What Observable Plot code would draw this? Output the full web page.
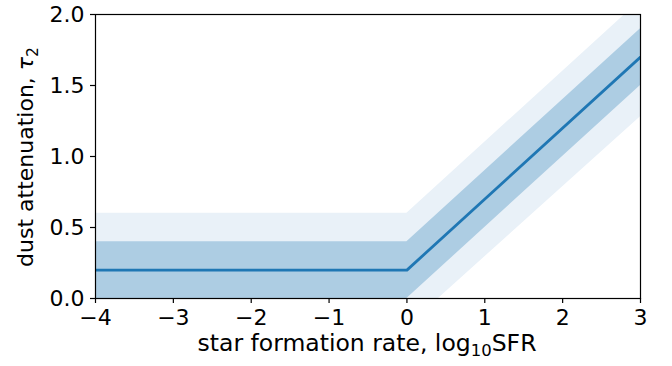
<!DOCTYPE html>
<html>
<head>
<meta charset="utf-8">
<script src="https://cdn.jsdelivr.net/npm/d3@7"></script>
<script src="https://cdn.jsdelivr.net/npm/@observablehq/plot@0.6"></script>
<style>
  html, body { margin: 0; padding: 0; background: #fff; }
  svg { display: block; }
</style>
</head>
<body>
<div id="chart"></div>
<script>
// Data
const sfr = [-4, 0, 3];               // log10 SFR breakpoints
const tau = [0.2, 0.2, 1.7];          // median dust attenuation
const innerLo = [0.0, 0.0, 1.5];
const innerHi = [0.4, 0.4, 1.9];
const outerLo = [-0.2, -0.2, 1.28];
const outerHi = [0.6, 0.6, 2.1];
const xTicks = [-4, -3, -2, -1, 0, 1, 2, 3];
const yTicks = [0, 0.5, 1, 1.5, 2];

const rows = sfr.map((x, i) => ({
  x, y: tau[i], ilo: innerLo[i], ihi: innerHi[i], olo: outerLo[i], ohi: outerHi[i]
}));

const fmtX = d => (d < 0 ? "\u2212" + Math.abs(d) : String(d));
const fmtY = d3.format(".1f");

const plot = Plot.plot({
  width: 672,
  height: 366,
  marginLeft: 95,
  marginRight: 32,
  marginTop: 14,
  marginBottom: 68,
  style: { fontSize: "22px", fontFamily: "DejaVu Sans, sans-serif", color: "black", background: "white" },
  x: { domain: [-4, 3] },
  y: { domain: [0, 2] },
  marks: [
    Plot.areaY(rows, { x: "x", y1: "olo", y2: "ohi", fill: "#e9f1f8", clip: true }),
    Plot.areaY(rows, { x: "x", y1: "ilo", y2: "ihi", fill: "#adcde3", clip: true }),
    Plot.line(rows, { x: "x", y: "y", stroke: "#1f77b4", strokeWidth: 2.8, clip: true }),
    Plot.frame({ stroke: "black", strokeWidth: 1.2 }),
    Plot.axisX({ ticks: xTicks, tickFormat: fmtX, tickSize: 5, tickPadding: 6, label: null }),
    Plot.axisY({ ticks: yTicks, tickFormat: fmtY, tickSize: 5, tickPadding: 6, label: null })
  ]
});

document.getElementById("chart").appendChild(plot);

const svg = d3.select(plot);
svg.selectAll("g[aria-label$='tick label']").attr("font-size", 22).selectAll("text").attr("font-size", 22);
svg.selectAll("g[aria-label$='tick']").attr("stroke-width", 1.2);

// Axis titles with subscripts
const xl = svg.append("text")
  .attr("x", 367)
  .attr("y", 351)
  .attr("text-anchor", "middle")
  .attr("font-size", 23.5)
  .attr("font-family", "DejaVu Sans, sans-serif")
  .attr("fill", "black");
xl.append("tspan").text("star formation rate, log");
xl.append("tspan").attr("font-size", 16.5).attr("dy", 5).text("10");
xl.append("tspan").attr("dy", -5).text("SFR");

const yl = svg.append("text")
  .attr("transform", "translate(33,157) rotate(-90)")
  .attr("text-anchor", "middle")
  .attr("font-size", 22)
  .attr("font-family", "DejaVu Sans, sans-serif")
  .attr("fill", "black");
yl.append("tspan").text("dust attenuation, ");
yl.append("tspan").attr("font-style", "italic").text("τ");
yl.append("tspan").attr("font-size", 15.5).attr("dy", 5).text("2");
</script>
</body>
</html>
